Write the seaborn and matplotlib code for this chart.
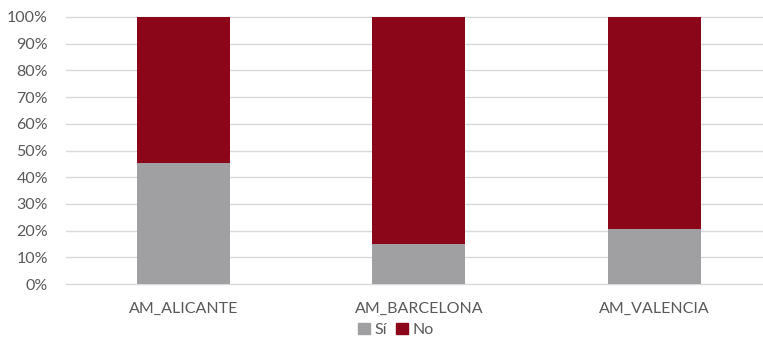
import matplotlib
matplotlib.use("Agg")
import matplotlib.pyplot as plt
import matplotlib.patches as mpatches
from matplotlib.ticker import PercentFormatter
import seaborn as sns
import pandas as pd

categories = ["AM_ALICANTE", "AM_BARCELONA", "AM_VALENCIA"]
si_values = [0.452, 0.151, 0.206]
no_values = [0.548, 0.849, 0.794]
series_labels = ["Sí", "No"]
colors = {"Sí": "#A0A0A2", "No": "#8B0618"}

df = pd.DataFrame({"cat": categories, "si": si_values, "no": no_values})
df["total"] = df["si"] + df["no"]

sns.set_theme(style="white")
plt.rcParams["font.family"] = ["Lato", "DejaVu Sans"]

W, H = 763, 339
fig = plt.figure(figsize=(W / 100, H / 100), dpi=100)
ax = fig.add_axes([66 / W, 55 / H, (763 - 66) / W, 267 / H])

sns.barplot(data=df, x="cat", y="total", color=colors["No"], width=0.395,
            saturation=1, ax=ax, zorder=3, edgecolor="none")
sns.barplot(data=df, x="cat", y="si", color=colors["Sí"], width=0.395,
            saturation=1, ax=ax, zorder=4, edgecolor="none")

ax.set_xlim(-0.4995, 2.463)
ax.set_ylim(0, 1)
ax.set_yticks([i / 10 for i in range(11)])
ax.yaxis.set_major_formatter(PercentFormatter(1.0, decimals=0))
ax.grid(axis="y", color="#D9D9D9", linewidth=1.0, zorder=0)
for ln in ax.get_ygridlines():
    ln.set_clip_on(False)
ax.set_axisbelow(True)
for s in ax.spines.values():
    s.set_visible(False)
ax.set_xlabel("")
ax.set_ylabel("")
ax.tick_params(axis="both", length=0, labelsize=11.5, colors="#595959")
ax.tick_params(axis="y", pad=13)
ax.tick_params(axis="x", pad=13)

handles = [mpatches.Patch(color=colors[s], label=s) for s in series_labels]
fig.legend(handles=handles, loc="center", bbox_to_anchor=(396 / W, 1 - 330 / H),
           ncol=2, frameon=False, fontsize=11.5, handlelength=0.7, handleheight=0.7,
           handletextpad=0.3, columnspacing=0.6, labelcolor="#595959")

fig.savefig("out.png", dpi=100)
